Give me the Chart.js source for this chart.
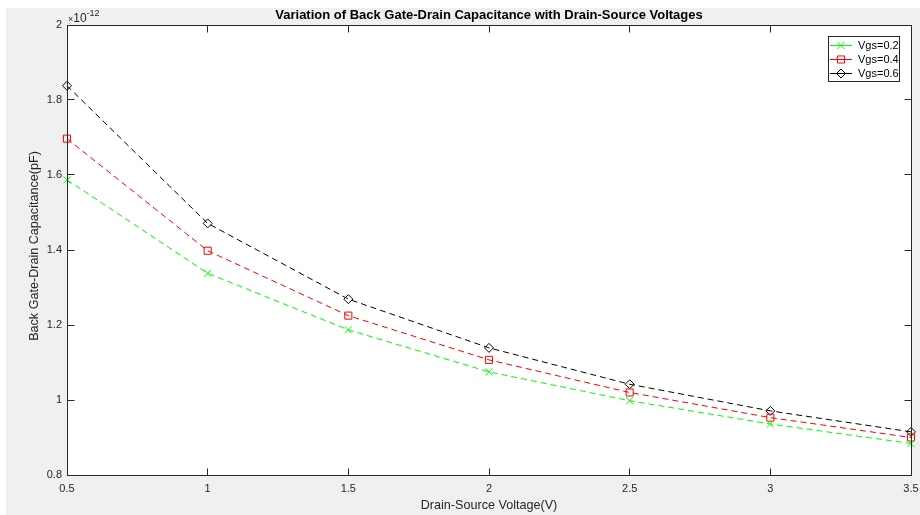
<!DOCTYPE html>
<html>
<head>
<meta charset="utf-8">
<script src="https://cdn.jsdelivr.net/npm/chart.js@4/dist/chart.umd.min.js"></script>
<style>
  html, body { margin: 0; padding: 0; background: #ffffff; }
  #wrap { width: 920px; height: 515px; position: relative; }
</style>
</head>
<body>
<div id="wrap"><canvas id="c" width="920" height="515"></canvas></div>
<script>
// Back gate-drain capacitance (x1e-12) against drain-source voltage
const drainSourceV = [0.5, 1, 1.5, 2, 2.5, 3, 3.5];
const cbgdVgs02 = [1.587, 1.338, 1.187, 1.075, 0.998, 0.936, 0.884];
const cbgdVgs04 = [1.697, 1.398, 1.225, 1.107, 1.020, 0.953, 0.900];
const cbgdVgs06 = [1.838, 1.471, 1.269, 1.139, 1.042, 0.971, 0.915];
const seriesLabels = ['Vgs=0.2', 'Vgs=0.4', 'Vgs=0.6'];
const xTickValues = [0.5, 1, 1.5, 2, 2.5, 3, 3.5];
const yTickValues = [0.8, 1, 1.2, 1.4, 1.6, 1.8, 2];

const chartTitle = 'Variation of Back Gate-Drain Capacitance with Drain-Source Voltages';
const xAxisTitle = 'Drain-Source Voltage(V)';
const yAxisTitle = 'Back Gate-Drain Capacitance(pF)';

const FONT = "'Liberation Sans', Arial, Helvetica, sans-serif";
const AXIS_COLOR = '#262626';
const FIG_BG = '#f0f0f0';

function toPoints(ys) {
  return drainSourceV.map((x, i) => ({ x: x, y: ys[i] }));
}

function series(label, ys, color, style, radius) {
  return {
    label: label,
    data: toPoints(ys),
    borderColor: color,
    backgroundColor: color,
    borderWidth: 1,
    borderDash: [6, 4],
    tension: 0,
    fill: false,
    pointStyle: style,
    pointRadius: radius,
    pointBorderWidth: 1,
    pointBorderColor: color,
    pointBackgroundColor: 'rgba(0,0,0,0)',
    clip: false
  };
}

// MATLAB-style frame: grey figure, white axes box, inward ticks, legend, titles
const figurePlugin = {
  id: 'figureFrame',
  beforeDraw(chart) {
    const ctx = chart.ctx;
    const a = chart.chartArea;
    ctx.save();
    ctx.fillStyle = '#ffffff';
    ctx.fillRect(0, 0, chart.width, chart.height);
    ctx.fillStyle = FIG_BG;
    ctx.fillRect(6, 8, chart.width - 6, chart.height - 8);
    ctx.fillStyle = '#ffffff';
    ctx.fillRect(a.left, a.top, a.right - a.left, a.bottom - a.top);
    ctx.restore();
  },
  afterDraw(chart) {
    const ctx = chart.ctx;
    const a = chart.chartArea;
    const xs = chart.scales.x;
    const ys = chart.scales.y;
    const L = Math.floor(a.left) + 0.5;
    const R = Math.floor(a.right) + 0.5;
    const T = Math.floor(a.top) + 0.5;
    const B = Math.floor(a.bottom) + 0.5;
    const tick = 7;

    ctx.save();
    ctx.strokeStyle = AXIS_COLOR;
    ctx.lineWidth = 1;
    ctx.setLineDash([]);
    ctx.beginPath();
    ctx.rect(L, T, R - L, B - T);
    // inward tick marks on all four sides
    xTickValues.forEach(v => {
      const px = Math.floor(xs.getPixelForValue(v)) + 0.5;
      ctx.moveTo(px, B); ctx.lineTo(px, B - tick);
      ctx.moveTo(px, T); ctx.lineTo(px, T + tick);
    });
    yTickValues.forEach(v => {
      const py = Math.floor(ys.getPixelForValue(v)) + 0.5;
      ctx.moveTo(L, py); ctx.lineTo(L + tick, py);
      ctx.moveTo(R, py); ctx.lineTo(R - tick, py);
    });
    ctx.stroke();

    // exponent label above the y axis
    ctx.fillStyle = AXIS_COLOR;
    ctx.textBaseline = 'alphabetic';
    ctx.textAlign = 'left';
    ctx.font = '9px ' + FONT;
    ctx.fillText('\u00d7', a.left + 1, a.top - 3);
    let w = ctx.measureText('\u00d7').width;
    ctx.font = '12px ' + FONT;
    ctx.fillText('10', a.left + 1 + w, a.top - 3);
    w += ctx.measureText('10').width;
    ctx.font = '9px ' + FONT;
    ctx.fillText('-12', a.left + 1 + w, a.top - 9);

    // title
    ctx.fillStyle = '#000000';
    ctx.textAlign = 'center';
    ctx.textBaseline = 'middle';
    ctx.font = 'bold 13px ' + FONT;
    ctx.fillText(chartTitle, (a.left + a.right) / 2, 15);

    // axis titles
    ctx.fillStyle = AXIS_COLOR;
    ctx.font = '12.6px ' + FONT;
    ctx.fillText(xAxisTitle, (a.left + a.right) / 2, 506);
    ctx.save();
    ctx.translate(35, (a.top + a.bottom) / 2 - 4);
    ctx.rotate(-Math.PI / 2);
    ctx.fillText(yAxisTitle, 0, 0);
    ctx.restore();

    // legend box
    const bx = 828.5, by = 36.5, bw = 71, bh = 45;
    ctx.fillStyle = '#ffffff';
    ctx.fillRect(bx, by, bw, bh);
    ctx.strokeStyle = AXIS_COLOR;
    ctx.strokeRect(bx, by, bw, bh);
    chart.data.datasets.forEach((ds, i) => {
      const y = 45 + i * 14;
      ctx.strokeStyle = ds.borderColor;
      ctx.lineWidth = 1;
      ctx.beginPath();
      ctx.moveTo(830, y + 0.5);
      ctx.lineTo(852, y + 0.5);
      ctx.stroke();
      ctx.fillStyle = 'rgba(0,0,0,0)';
      Chart.helpers.drawPoint(ctx, {
        pointStyle: ds.pointStyle,
        radius: ds.pointRadius,
        borderWidth: 1,
        rotation: 0
      }, 841, y + 0.5);
      ctx.fillStyle = '#000000';
      ctx.textAlign = 'left';
      ctx.textBaseline = 'middle';
      ctx.font = '11px ' + FONT;
      ctx.fillText(ds.label, 858, y + 1);
    });
    ctx.restore();
  }
};

new Chart(document.getElementById('c'), {
  type: 'line',
  data: {
    datasets: [
      series(seriesLabels[0], cbgdVgs02, '#00ff00', 'crossRot', 5),
      series(seriesLabels[1], cbgdVgs04, '#ff0000', 'rect', 5),
      series(seriesLabels[2], cbgdVgs06, '#000000', 'rectRot', 4.5)
    ]
  },
  options: {
    responsive: false,
    devicePixelRatio: 1,
    animation: false,
    events: [],
    layout: { padding: { top: 25, right: 9, left: 0, bottom: 0 } },
    plugins: {
      legend: { display: false },
      title: { display: false },
      tooltip: { enabled: false }
    },
    scales: {
      x: {
        type: 'linear',
        min: 0.5,
        max: 3.5,
        afterBuildTicks: s => { s.ticks = xTickValues.map(v => ({ value: v })); },
        afterFit: s => { s.height = 40; s.paddingLeft = 0; s.paddingRight = 0; },
        grid: { display: false, drawTicks: false },
        border: { display: false },
        ticks: {
          padding: 7,
          color: AXIS_COLOR,
          font: { family: FONT, size: 11 },
          maxRotation: 0,
          autoSkip: false,
          callback: v => String(+Number(v).toFixed(2))
        }
      },
      y: {
        type: 'linear',
        min: 0.8,
        max: 2,
        afterBuildTicks: s => { s.ticks = yTickValues.map(v => ({ value: v })); },
        afterFit: s => { s.width = 67; s.paddingTop = 0; s.paddingBottom = 0; },
        grid: { display: false, drawTicks: false },
        border: { display: false },
        ticks: {
          padding: 5,
          color: AXIS_COLOR,
          font: { family: FONT, size: 11 },
          autoSkip: false,
          callback: v => String(+Number(v).toFixed(2))
        }
      }
    }
  },
  plugins: [figurePlugin]
});
</script>
</body>
</html>
